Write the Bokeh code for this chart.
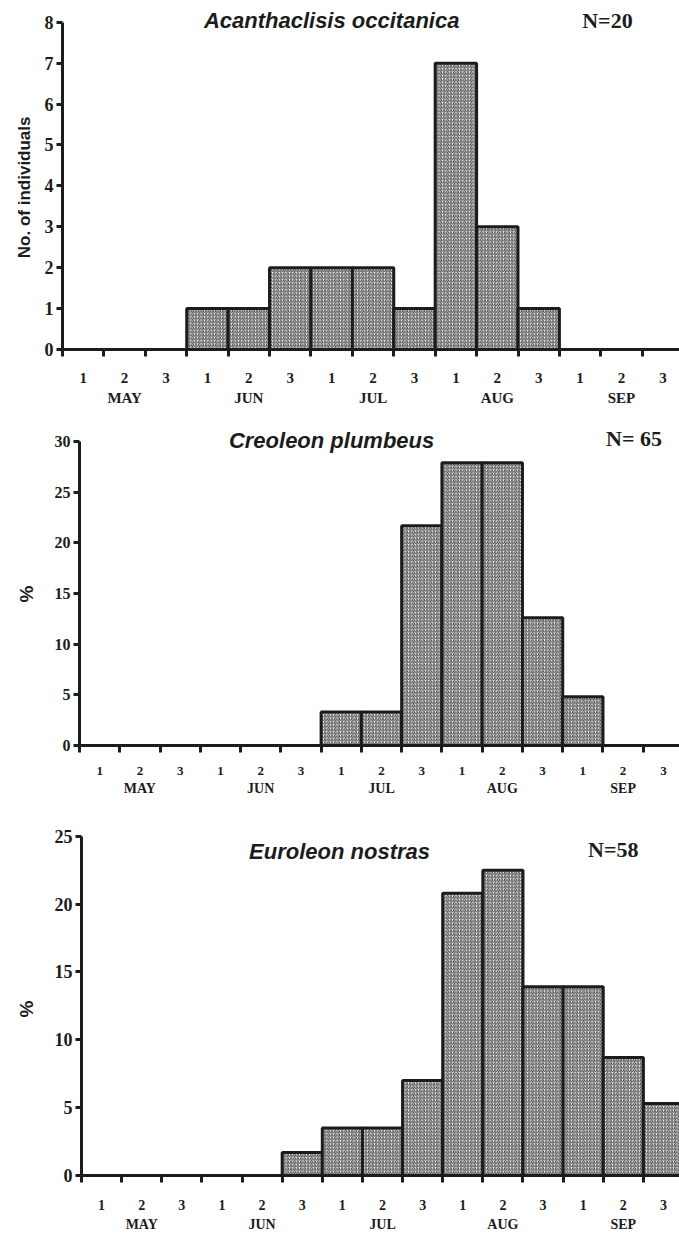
from bokeh.plotting import figure
from bokeh.models import LinearAxis, FixedTicker, Range1d, Label, Title, ColumnDataSource
from bokeh.embed import file_html
from bokeh.resources import INLINE

# ---- data ----
decade_labels = ["1", "2", "3"] * 5
months = ["MAY", "JUN", "JUL", "AUG", "SEP"]

acanthaclisis = [0, 0, 0, 1, 1, 2, 2, 2, 1, 7, 3, 1, 0, 0, 0]
creoleon = [0, 0, 0, 0, 0, 0, 3.3, 3.3, 21.7, 27.9, 27.9, 12.6, 4.8, 0, 0]
euroleon = [0, 0, 0, 0, 0, 1.7, 3.5, 3.5, 7.0, 20.8, 22.5, 13.9, 13.9, 8.7, 5.3]

titles = ["Acanthaclisis occitanica", "Creoleon plumbeus", "Euroleon nostras"]
n_labels = ["N=20", "N= 65", "N=58"]
y_labels = ["No. of individuals", "%", "%"]
y_ticks = [list(range(0, 9)), list(range(0, 31, 5)), list(range(0, 26, 5))]

INK = "#1c1c1c"
SERIF = "Liberation Serif"
SANS = "Liberation Sans"


def panel(values, title, nlab, ylab, yt, *, height, bottom, left, y_end,
          title_pos, n_pos, ylab_offset, ylab_standoff, ytick_size, yl_size, dig_size,
          mon_size, dig_stand, mon_stand, title_size, n_size):
    n = len(values)
    p = figure(width=679, height=height, output_backend="svg", toolbar_location=None,
               x_axis_type=None, y_axis_type=None,
               x_range=Range1d(0, 14.9), y_range=Range1d(0, y_end),
               min_border_left=left, min_border_right=0,
               min_border_top=0, min_border_bottom=bottom)
    p.outline_line_color = None
    p.background_fill_color = "white"

    src = ColumnDataSource(dict(left=list(range(n)), right=[i + 1 for i in range(n)],
                                top=values, bottom=[0] * n))
    p.quad(left="left", right="right", top="top", bottom="bottom", source=src,
           fill_color="white", hatch_pattern="/", hatch_scale=3.4, hatch_weight=1.0,
           hatch_color="#3a3a3a", line_color=INK, line_width=3)

    # x axis: tick marks at decade boundaries, digit labels at centres
    ax = LinearAxis(ticker=FixedTicker(ticks=[i + 0.5 for i in range(n)],
                                       minor_ticks=list(range(n + 1))))
    ax.major_label_overrides = {i + 0.5: decade_labels[i] for i in range(n)}
    ax.axis_line_color = INK
    ax.axis_line_width = 3
    ax.major_tick_line_color = None
    ax.major_tick_out = 0
    ax.major_tick_in = 0
    ax.minor_tick_line_color = INK
    ax.minor_tick_line_width = 3
    ax.minor_tick_out = 7
    ax.minor_tick_in = 0
    ax.major_label_standoff = dig_stand
    ax.major_label_text_font = SERIF
    ax.major_label_text_font_style = "bold"
    ax.major_label_text_font_size = dig_size
    ax.major_label_text_color = INK
    p.add_layout(ax, "below")

    mon_ticks = [3 * k + 1.5 for k in range(len(months))]
    am = LinearAxis(ticker=FixedTicker(ticks=mon_ticks))
    am.major_label_overrides = {t: m for t, m in zip(mon_ticks, months)}
    am.axis_line_color = None
    am.major_tick_line_color = None
    am.major_tick_out = 0
    am.major_tick_in = 0
    am.minor_tick_line_color = None
    am.major_label_standoff = mon_stand
    am.major_label_text_font = SERIF
    am.major_label_text_font_style = "bold"
    am.major_label_text_font_size = mon_size
    am.major_label_text_color = INK
    p.add_layout(am, "below")

    ay = LinearAxis(ticker=FixedTicker(ticks=yt), bounds=(0, yt[-1]))
    ay.axis_line_color = INK
    ay.axis_line_width = 3
    ay.major_tick_line_color = INK
    ay.major_tick_line_width = 3
    ay.major_tick_out = 6
    ay.major_tick_in = 0
    ay.minor_tick_line_color = None
    ay.major_label_standoff = 3
    ay.major_label_text_font = SERIF
    ay.major_label_text_font_style = "bold"
    ay.major_label_text_font_size = ytick_size
    ay.major_label_text_color = INK
    p.add_layout(ay, "left")

    # y-axis title as a side title (its top end placed `offset` px below the frame top)
    p.add_layout(Title(text=ylab, align="right", offset=ylab_offset, standoff=ylab_standoff,
                       vertical_align="middle", text_font=SANS, text_font_style="bold",
                       text_font_size=yl_size, text_color=INK), "left")

    p.add_layout(Label(x=title_pos[0], y=title_pos[1], text=title, text_font=SANS,
                       text_font_style="bold italic", text_font_size=title_size,
                       text_align="center", text_baseline="middle", text_color=INK))
    p.add_layout(Label(x=n_pos[0], y=n_pos[1], text=nlab, text_font=SERIF,
                       text_font_style="bold", text_font_size=n_size,
                       text_align="center", text_baseline="middle", text_color=INK))
    return p


p1 = panel(acanthaclisis, titles[0], n_labels[0], y_labels[0], y_ticks[0],
           height=408, bottom=56, left=62, y_end=8.533,
           title_pos=(6.5, 8.05), n_pos=(13.16, 8.05), ylab_offset=116, ylab_standoff=14,
           ytick_size="18px", yl_size="17px", dig_size="15px", mon_size="15px",
           dig_stand=16, mon_stand=4, title_size="22px", n_size="22px")
p2 = panel(creoleon, titles[1], n_labels[1], y_labels[1], y_ticks[1],
           height=392, bottom=55, left=79, y_end=33.26,
           title_pos=(6.26, 30.1), n_pos=(13.77, 30.3), ylab_offset=177, ylab_standoff=28,
           ytick_size="16px", yl_size="19px", dig_size="13px", mon_size="14px",
           dig_stand=14, mon_stand=3, title_size="22px", n_size="22px")
p3 = panel(euroleon, titles[2], n_labels[2], y_labels[2], y_ticks[2],
           height=434, bottom=56, left=80, y_end=27.63,
           title_pos=(6.43, 23.9), n_pos=(13.25, 24.05), ylab_offset=200, ylab_standoff=28,
           ytick_size="18px", yl_size="19px", dig_size="14px", mon_size="14px",
           dig_stand=17, mon_stand=4, title_size="22px", n_size="22px")

open("out.html", "w").write(file_html([p1, p2, p3], INLINE))
